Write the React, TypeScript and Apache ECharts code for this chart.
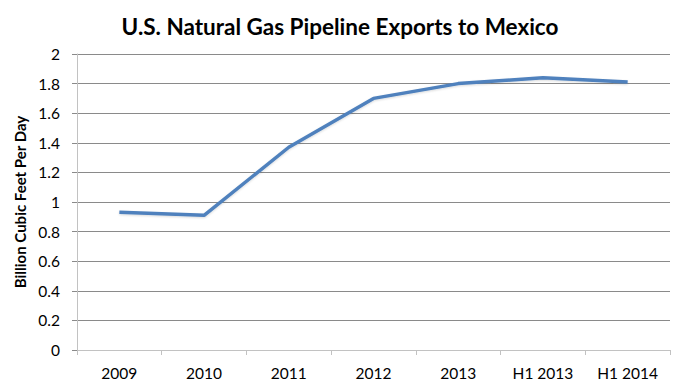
import React, { useEffect, useRef } from "react";
import * as echarts from "echarts";

const titleText = "U.S. Natural Gas Pipeline Exports to Mexico";
const yAxisName = "Billion Cubic Feet Per Day";
const categories = ["2009", "2010", "2011", "2012", "2013", "H1 2013", "H1 2014"];
const exportsBcfd = [0.93, 0.91, 1.37, 1.7, 1.8, 1.84, 1.81];

export default function App() {
  const ref = useRef<HTMLDivElement>(null);
  useEffect(() => {
    if (!ref.current) return;
    const chart = echarts.init(ref.current, null, { renderer: "svg" });
    const font = "Lato, 'Open Sans', 'Liberation Sans', sans-serif";
    chart.setOption({
      animation: false,
      backgroundColor: "#ffffff",
      title: {
        text: titleText,
        left: "center",
        top: 10,
        textStyle: { fontFamily: font, fontWeight: "bold", fontSize: 22.5, color: "#000" },
      },
      grid: { left: 77, right: 10, top: 54, bottom: 38, containLabel: false },
      xAxis: {
        type: "category",
        data: categories,
        boundaryGap: true,
        axisLine: { lineStyle: { color: "#c2c2c2", width: 1 } },
        axisTick: { show: true, alignWithLabel: false, length: 5, lineStyle: { color: "#c2c2c2" } },
        axisLabel: { margin: 15, fontFamily: font, fontSize: 15.5, color: "#000" },
        splitLine: { show: false },
      },
      yAxis: {
        type: "value",
        min: 0,
        max: 2,
        interval: 0.2,
        name: yAxisName,
        nameLocation: "middle",
        nameGap: 45,
        nameTextStyle: { fontFamily: font, fontWeight: "bold", fontSize: 15, color: "#000" },
        axisLine: { show: true, lineStyle: { color: "#c2c2c2", width: 1 } },
        axisTick: { show: true, length: 5, lineStyle: { color: "#8a8a8a" } },
        axisLabel: {
          margin: 17,
          fontFamily: font,
          fontSize: 15.5,
          color: "#000",
          formatter: (v: number) => String(parseFloat(v.toFixed(1))),
        },
        splitLine: { show: true, lineStyle: { color: "#8a8a8a", width: 1 } },
      },
      series: [
        {
          type: "line",
          data: exportsBcfd,
          symbol: "none",
          lineStyle: { color: "#4f81bd", width: 3.5, shadowColor: "rgba(0,0,0,0.15)", shadowBlur: 2, shadowOffsetY: 1 },
          itemStyle: { color: "#4f81bd" },
        },
      ],
    });
    return () => chart.dispose();
  }, []);
  return <div ref={ref} style={{ width: 680, height: 388, position: "absolute", left: 0, top: 0 }} />;
}
